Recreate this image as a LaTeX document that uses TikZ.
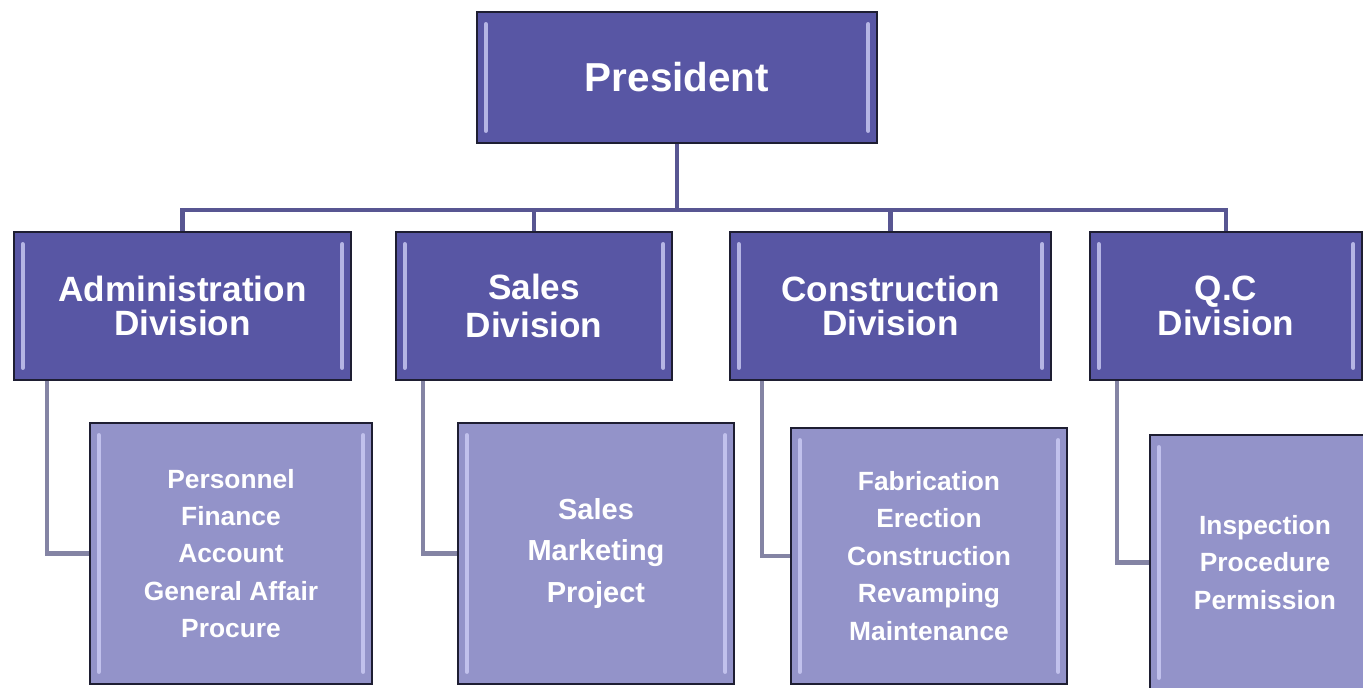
\documentclass[tikz,border=0pt]{standalone}
\usepackage{fontspec}
\setmainfont{Liberation Sans}
\usepackage{xcolor}
\usepackage{tikz}
\usetikzlibrary{calc}
\definecolor{cHead}{RGB}{88,86,164}
\definecolor{cSub}{RGB}{147,147,201}
\definecolor{cBus}{RGB}{88,86,146}
\definecolor{cLink}{RGB}{132,132,164}
\definecolor{cEdge}{RGB}{30,30,50}
\definecolor{cGlint}{RGB}{205,205,245}
\tikzstyle{tsBoldWhite} = [
    text=white,
    font=\bfseries
]
\tikzstyle{tsBox} = [
    rectangle,
    tsBoldWhite,
    align=center,
    inner sep=0pt,
    draw=cEdge,
    line width=1.3pt,
    path picture={
        \draw[cGlint, line width=2.6pt, line cap=round, opacity=0.8]
        ([shift={(5pt,-7pt)}]path picture bounding box.north west) --
        ([shift={(5pt,7pt)}]path picture bounding box.south west);
        \draw[cGlint, line width=2.6pt, line cap=round, opacity=0.8]
        ([shift={(-5pt,-7pt)}]path picture bounding box.north east) --
        ([shift={(-5pt,7pt)}]path picture bounding box.south east);
    }
]
\tikzstyle{tsHead} = [
    tsBox,
    fill=cHead,
    font=\bfseries\fontsize{20}{19.5}\selectfont
]
\tikzstyle{tsSub} = [
    tsBox,
    fill=cSub,
    minimum width=5.52cm,
    font=\bfseries\fontsize{15}{21.3}\selectfont
]
\tikzstyle{tsBus} = [draw=cBus, line width=2.4pt]
\tikzstyle{tsLink} = [draw=cLink, line width=2.4pt]

\begin{document}
\begin{tikzpicture} [x=0.02cm, y=-0.02cm]

        \useasboundingbox (0,0) rectangle (1363,688);
        \clip (0,0) rectangle (1363,688);

        % Bus from president to divisions
        \coordinate (busL) at (182.5,210);

        % Top of the chart
        \node[tsHead, minimum width=8cm, minimum height=2.62cm,
        font=\bfseries\fontsize{23}{23}\selectfont] (pres) at (677,77.5) {President};

        % Divisions
        \node[tsHead, minimum width=6.74cm, minimum height=2.96cm] (adm) at (182.5,306) {Administration\\Division};
        \node[tsHead, minimum width=5.52cm, minimum height=2.96cm,
        font=\bfseries\fontsize{20}{22}\selectfont] (sal) at (534,306) {Sales\\Division};
        \node[tsHead, minimum width=6.42cm, minimum height=2.96cm] (con) at (890.5,306) {Construction\\Division};
        \node[tsHead, minimum width=5.44cm, minimum height=2.96cm] (qc) at (1226,306) {Q.C\\Division};

        % Sections of each division
        \node[tsSub, minimum width=5.64cm, minimum height=5.22cm] (admSub) at (231,553.5)
        {Personnel\\Finance\\Account\\General Affair\\Procure};
        \node[tsSub, minimum height=5.22cm,
        font=\bfseries\fontsize{16.5}{23.6}\selectfont] (salSub) at (596,553.5)
        {Sales\\Marketing\\Project};
        \node[tsSub, minimum height=5.12cm] (conSub) at (929,556)
        {Fabrication\\Erection\\Construction\\Revamping\\Maintenance};
        \node[tsSub, minimum width=4.6cm, minimum height=5.1cm] (qcSub) at (1265,562.5)
        {Inspection\\Procedure\\Permission};

        \draw[tsBus] (adm.north) -- (busL) -| (qc.north);
        \draw[tsBus] (pres.south) -- (pres.south |- busL);
        \draw[tsBus] (sal.north) -- (sal.north |- busL);
        \draw[tsBus] (con.north) -- (con.north |- busL);

        % Links down to the sections
        \draw[tsLink] ([xshift=0.68cm]adm.south west) |- (admSub.west);
        \draw[tsLink] ([xshift=0.56cm]sal.south west) |- (salSub.west);
        \draw[tsLink] ([xshift=0.66cm]con.south west) |- (conSub.west);
        \draw[tsLink] ([xshift=0.56cm]qc.south west) |- (qcSub.west);

    \end{tikzpicture}
\end{document}
